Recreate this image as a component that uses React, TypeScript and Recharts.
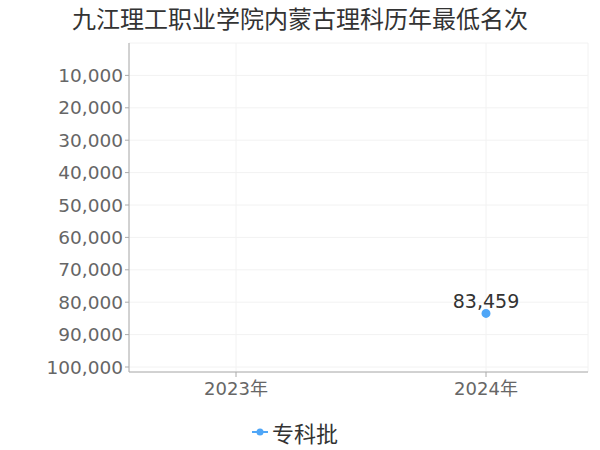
import { CartesianGrid, LabelList, Legend, Line, LineChart, XAxis, YAxis } from "recharts";

const years = ["2023年", "2024年"];
const ranks: (number | null)[] = [null, 83459];
const yTicks = [10000, 20000, 30000, 40000, 50000, 60000, 70000, 80000, 90000, 100000];
const seriesName = "专科批";
const blue = "#4fa6f7";

const chartData = years.map((year, i) => ({ year, rank: ranks[i] }));

const fmt = (v: number) => v.toLocaleString("en-US");
const font = "'DejaVu Sans', 'Noto Sans CJK SC', sans-serif";

const LegendContent = () => (
  <div style={{ height: 36, display: "flex", justifyContent: "center", alignItems: "center", paddingLeft: 2 }}>
    <svg width={16} height={10} style={{ marginRight: 4 }}>
      <line x1={0} y1={5} x2={16} y2={5} stroke={blue} strokeWidth={2} />
      <circle cx={8} cy={5} r={3.5} fill={blue} />
    </svg>
    <span style={{ color: "#333", fontSize: 22, fontFamily: "'Noto Sans CJK SC', sans-serif" }}>{seriesName}</span>
  </div>
);

export default function App() {
  return (
    <div style={{ position: "absolute", left: 0, top: 0, width: 600, height: 450, background: "#fff", fontFamily: font }}>
      <div
        style={{
          position: "absolute",
          top: 4,
          left: 0,
          width: 600,
          textAlign: "center",
          fontSize: 24,
          lineHeight: "28px",
          color: "#333",
          fontFamily: "'Noto Sans CJK SC', sans-serif",
        }}
      >
        九江理工职业学院内蒙古理科历年最低名次
      </div>
      <LineChart width={600} height={450} data={chartData} margin={{ top: 43, right: 12, left: 0, bottom: 0 }}>
        <CartesianGrid stroke="#f2f2f2" />
        <XAxis
          dataKey="year"
          padding={{ left: 107, right: 102 }}
          height={42}
          stroke="#aaa"
          tickSize={5}
          tick={{ fill: "#666", fontSize: 18, fontFamily: font, dy: 3 }}
        />
        <YAxis
          reversed
          domain={[0, 100000]}
          ticks={yTicks}
          width={129}
          padding={{ top: 0, bottom: 5 }}
          stroke="#aaa"
          tickSize={4}
          tickFormatter={fmt}
          tick={{ fill: "#666", fontSize: 18.5, fontFamily: font }}
          interval={0}
        />
        <Legend verticalAlign="bottom" height={36} content={<LegendContent />} />
        <Line
          name={seriesName}
          dataKey="rank"
          stroke={blue}
          strokeWidth={2}
          dot={{ r: 3.5, fill: blue, stroke: blue }}
          isAnimationActive={false}
        >
          <LabelList
            dataKey="rank"
            position="top"
            offset={5}
            formatter={(v: any) => (v == null ? "" : fmt(v))}
            fill="#333"
            fontSize={19}
            fontFamily={font}
          />
        </Line>
      </LineChart>
    </div>
  );
}
